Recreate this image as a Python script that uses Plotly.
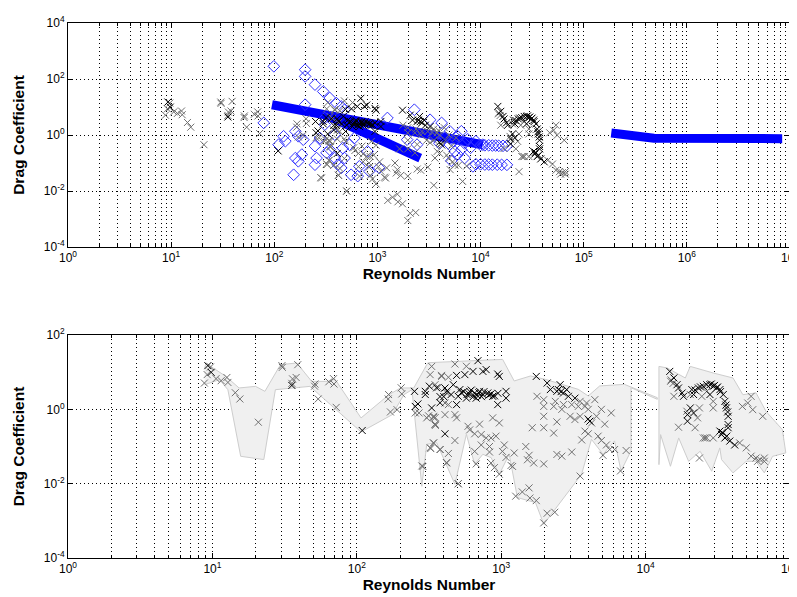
import plotly.graph_objects as go

# ---------------- data (Reynolds number, drag coefficient) ----------------
re_gray = [9.7, 9.2, 8.8, 10.6, 11.5, 12.6, 12.8, 14.4, 15.5, 20.8, 30.3, 30.5, 39, 35.9, 38, 35.5,
           51.3, 51, 54, 64, 69, 69.5, 72, 166, 165, 171, 190, 203, 205, 254, 270, 305, 340, 350,
           340, 325, 377, 287, 322, 386, 330, 314, 349, 349, 282, 322, 419, 504,
           478, 574, 387, 431, 348, 367, 419, 408, 431, 408, 478, 491, 340, 348, 589, 708, 873, 970,
           478, 340, 378, 431, 419, 504, 605, 655, 727, 787, 851, 920, 655, 671, 727, 830, 830, 851,
           897, 970, 1020, 1050, 1080, 1230, 1200, 1170, 1260, 1400, 1560, 1580, 1750, 1970, 2080,
           2350, 1480, 1560, 1520, 1680, 1970, 1640, 1970, 2310, 2430, 2630, 3080, 3520, 1770, 1970,
           1970, 1970, 2310, 2370, 2630, 2430, 2700, 3000, 3080, 3420, 3520, 3800, 3900, 4010, 4450,
           3240, 3520, 4230, 3800, 4010, 3610, 4570, 4940, 5210, 4690, 4940, 5350, 5780, 5070, 5640,
           6100, 7330, 6700, 14900, 15700, 20400, 19300, 22900, 23600, 22000, 16900, 24500, 29400,
           29400, 23600, 25800, 25100, 26500, 29400, 46800, 51000, 53800, 55200, 64700, 44800, 49800,
           53800, 58200, 59700, 66400, 66400, 62000, 26500, 15000, 15500]
cd_gray = [13.8, 8.6, 5.1, 6.7, 5.9, 7.2, 5.3, 2.8, 1.9, 0.45, 15, 13.5, 15.9, 6.6, 7.2, 5.0,
           4.8, 4.2, 1.9, 5.5, 6.7, 4.8, 1.13, 2.5, 1.9, 0.85, 0.98, 3.8, 2.6, 0.8, 0.8, 0.59, 0.61, 0.37,
           0.125, 0.088, 0.083, 0.029, 8.6, 8.2, 14.3, 0.67, 0.6, 0.4, 0.030, 0.093, 0.037, 0.01,
           16.6, 14.4, 7.7, 7.3, 4.6, 3.9, 2.75, 1.48, 1.34, 0.72, 0.72, 0.59, 0.65, 0.39, 0.35, 0.40, 0.59, 0.43,
           0.145, 0.124, 0.083, 0.065, 0.036, 0.0099, 0.28, 0.22, 0.21, 0.17, 0.17, 0.19, 0.074, 0.034, 0.11, 0.10, 0.071, 0.036,
           0.027, 0.018, 0.074, 0.11, 0.051, 0.067, 0.029, 0.031, 0.0046, 0.006, 0.0077, 0.0041, 0.0035, 0.00088, 0.0016,
           0.0017, 0.10, 0.058, 0.044, 0.036, 0.034, 0.32, 0.32, 0.23, 0.061, 0.055, 0.071, 0.016, 2.24, 0.65,
           1.2, 1.82, 1.2, 1.64, 1.0, 0.46, 1.34, 0.65, 1.34, 1.2, 1.64, 1.2, 1.48, 1.0, 1.82,
           0.53, 0.65, 0.43, 0.26, 0.22, 0.15, 0.65, 1.0, 0.40, 0.19, 0.145, 0.11, 0.8, 0.058, 0.083,
           0.083, 0.078, 0.022, 5.7, 2.24, 2.5, 0.89, 0.59, 1.09, 0.32, 0.33, 2.24, 1.64,
           1.09, 0.049, 0.17, 0.17, 0.17, 0.17, 1.2, 1.48, 2.24, 0.98, 0.65, 0.125, 0.092,
           0.055, 0.049, 0.040, 0.049, 0.040, 0.045, 3.05, 6.2, 5.0]

re_black = [9.3, 9.8, 35.5, 109, 251, 298, 298, 318, 357, 377, 377, 330, 254, 265, 408,
            690, 747, 787, 638, 491, 560, 946, 970, 408, 466, 517, 605, 655, 708, 747, 807, 873,
            1080, 1080, 946, 671, 574, 504, 491, 550, 600, 620, 680, 700, 730, 760, 820, 850, 900,
            950, 640, 580, 530, 450, 420, 400,
            1750, 2080, 2190, 2430, 2490, 2560, 2700, 2840, 2920, 2600, 3240, 4110, 4000,
            14700, 15700, 16500, 16900, 17900, 18300, 20900, 21500, 23200, 25100, 26500, 27900,
            29400, 31000, 32700, 34500, 35400, 36300, 37300, 37300, 37300, 32700, 33600, 35400,
            38300, 41400, 19500, 19500, 20400, 21500, 27900, 28500, 30000, 31500, 33000, 24000,
            22000, 36000, 37000, 34000, 36500]
cd_black = [15, 9.9, 4.4, 0.27, 3.05, 3.05, 2.5, 4.2, 3.8, 2.2, 1.5, 1.09, 1.2, 1.4, 0.22,
            20.4, 10.5, 11.7, 10.5, 8.2, 8.6, 8.9, 7.7, 3.75, 4.6, 3.4, 3.05, 2.75, 3.05, 2.5, 2.75, 2.24,
            3.05, 2.0, 1.34, 2.0, 2.0, 2.24, 1.34, 3.0, 2.6, 3.3, 2.4, 2.8, 2.2, 3.0, 2.4, 2.6, 2.3,
            2.7, 2.2, 2.5, 2.8, 2.5, 3.1, 2.2,
            7.7, 5.1, 3.4, 3.05, 3.4, 4.6, 2.75, 3.4, 2.24, 3.0, 2.0, 0.48, 0.55,
            10.5, 7.0, 4.6, 3.75, 2.75, 2.24, 3.4, 2.5, 3.75, 4.16, 4.6, 4.6,
            4.16, 3.75, 3.4, 2.5, 1.64, 1.09, 0.65, 0.39, 0.32, 0.26, 0.21, 0.17,
            0.14, 0.11, 0.72, 0.48, 1.09, 0.8, 2.5, 4.8, 4.4, 4.0, 3.0, 4.0,
            3.3, 1.3, 0.85, 0.24, 0.19]

re_diamond = [99, 199, 199, 248, 298, 345, 399, 446, 480, 199, 79, 309, 309, 110, 123, 128, 160, 171,
              191, 160, 171, 185, 154, 248, 257, 248, 321, 345, 385, 414, 462, 480, 446, 556, 644,
              668, 803, 834, 598, 536, 277, 385, 2280, 3240, 4190, 6510, 5040, 1940, 2420, 5620,
              8430, 10500, 1040, 1250, 4500, 5500, 6000, 7000, 7500, 8000, 6500, 5000, 9000, 4000,
              3500, 7000, 6000, 5200, 10000, 11000, 12000, 13000, 14000, 15000, 16500, 18000,
              9000, 10000, 11000, 12000, 13000, 14500, 16000, 18000]
cd_diamond = [284, 215, 124, 63, 36, 21, 13.8, 10.5, 8.0, 12.1, 2.7, 4.05, 2.35, 0.45, 0.90, 0.60, 1.36, 0.90,
              0.68, 0.15, 0.115, 0.20, 0.038, 0.40, 0.15, 0.087, 0.23, 0.30, 0.15, 0.087, 0.34, 0.15, 0.067, 0.038, 0.034,
              0.076, 0.26, 0.051, 0.78, 0.45, 0.78, 1.03, 8.0, 3.5, 2.7, 1.36, 1.36, 0.68, 0.45, 0.26,
              0.076, 0.45, 0.067, 4.05, 0.8, 0.6, 0.9, 0.5, 0.7, 0.35, 0.3, 0.45, 0.6, 0.5,
              0.9, 0.15, 0.2, 0.12, 0.44, 0.43, 0.43, 0.42, 0.42, 0.41, 0.41, 0.41,
              0.09, 0.09, 0.088, 0.088, 0.087, 0.087, 0.086, 0.086]

band_upper_re = [95, 930, 10500]
band_upper_cd = [12, 2.4, 0.45]
band_lower_re = [310, 2600]
band_lower_cd = [5.3, 0.15]
band_right_re = [1.85e5, 4.8e5, 8.4e6]
band_right_cd = [1.17, 0.76, 0.74]

env_left_re = [8.83, 9.07, 10.1, 12.4, 15.3, 19.9, 23.1, 29.6, 38.4, 48.7, 63.2, 70.3, 107, 167, 201,
               248, 305, 314, 1023, 1230, 1597, 2023, 3420, 4006, 4809, 7129, 12050,
               12050, 7925, 7925, 6761, 6092, 5073, 4217, 3604, 2496, 1972, 1727, 1294, 1136, 971,
               851, 746, 655, 574, 478, 357, 305, 282, 241, 212, 176, 107, 47.4, 37.4, 27.3, 22.7,
               15.7, 12.8, 11.2, 8.83]
env_left_cd = [12.97, 17.7, 13.0, 7.71, 3.76, 4.15, 3.05, 15.9, 17.7, 5.66, 5.66, 6.69, 0.587, 2.48, 3.76,
               3.76, 15.9, 18.0, 22.1, 5.80, 7.91, 6.40, 3.45, 2.29, 4.26, 4.70, 2.06,
               1.86, 3.83, 0.0762, 0.0221, 0.1415, 0.0617, 0.156, 0.0179, 0.00279, 0.00081, 0.0031, 0.00423, 0.0617, 0.0179,
               0.0503, 0.0617, 0.0332, 0.213, 0.00964, 0.127, 0.1146, 0.0085, 3.38, 2.48, 0.72, 0.247, 4.15, 3.76, 3.38, 0.0445,
               0.0545, 3.38, 6.29, 4.61]
env_right_re = [12370, 14110, 18840, 20370, 29420, 40310, 47170, 58230, 68170, 88560, 93540,
                75710, 66400, 58230, 49770, 40310, 33570, 32660, 28690, 23860, 19850, 16950,
                14860, 12700, 12370, 12370]
env_right_cd = [14.3, 12.97, 6.98, 14.3, 9.51, 6.98, 2.48, 2.76, 0.884, 0.285, 0.0673,
                0.0545, 0.0195, 0.04, 0.04, 0.0195, 0.0445, 0.0917, 0.0216, 0.0743, 0.04, 0.17,
                0.0294, 0.209, 0.0326, 14.3]

x_top_ticks = [1, 10, 100, 1e3, 1e4, 1e5, 1e6, 1e7]
x_top_text = ["10<sup>0</sup>", "10<sup>1</sup>", "10<sup>2</sup>", "10<sup>3</sup>",
              "10<sup>4</sup>", "10<sup>5</sup>", "10<sup>6</sup>", "10<sup>7</sup>"]
y_top_ticks = [1e-4, 1e-2, 1, 1e2, 1e4]
y_top_text = ["10<sup>-4</sup>", "10<sup>-2</sup>", "10<sup>0</sup>", "10<sup>2</sup>", "10<sup>4</sup>"]
x_bot_ticks = [1, 10, 100, 1e3, 1e4, 1e5]
x_bot_text = ["10<sup>0</sup>", "10<sup>1</sup>", "10<sup>2</sup>", "10<sup>3</sup>",
              "10<sup>4</sup>", "10<sup>5</sup>"]
y_bot_ticks = [1e-4, 1e-2, 1, 1e2]
y_bot_text = ["10<sup>-4</sup>", "10<sup>-2</sup>", "10<sup>0</sup>", "10<sup>2</sup>"]

# ---------------- figure ----------------
FONT = "Arial, 'Liberation Sans', sans-serif"
fig = go.Figure()

BLUE = "#0000ff"
XSYM = dict(symbol="x-thin-open", size=7, line=dict(width=1))
GRID_DASH = "1px,3px"

# top subplot
for bre, bcd in [(band_upper_re, band_upper_cd), (band_lower_re, band_lower_cd),
                 (band_right_re, band_right_cd)]:
    fig.add_trace(go.Scatter(x=bre, y=bcd, mode="lines", line=dict(color=BLUE, width=9),
                             xaxis="x", yaxis="y", showlegend=False, hoverinfo="skip"))
fig.add_trace(go.Scatter(x=re_diamond, y=cd_diamond, mode="markers",
                         marker=dict(symbol="diamond-open", size=9, color="rgb(50,50,255)",
                                     line=dict(width=1)),
                         xaxis="x", yaxis="y", showlegend=False))
fig.add_trace(go.Scatter(x=re_gray, y=cd_gray, mode="markers",
                         marker=dict(color="#707070", **XSYM), xaxis="x", yaxis="y", showlegend=False))
fig.add_trace(go.Scatter(x=re_black, y=cd_black, mode="markers",
                         marker=dict(color="#000000", **XSYM), xaxis="x", yaxis="y", showlegend=False))

# bottom subplot
for ere, ecd in [(env_left_re, env_left_cd), (env_right_re, env_right_cd)]:
    fig.add_trace(go.Scatter(x=ere, y=ecd, mode="lines", fill="toself",
                             fillcolor="rgb(240,240,240)", line=dict(color="rgb(205,205,205)", width=1),
                             xaxis="x2", yaxis="y2", showlegend=False, hoverinfo="skip"))
fig.add_trace(go.Scatter(x=re_gray, y=cd_gray, mode="markers",
                         marker=dict(color="#707070", **XSYM), xaxis="x2", yaxis="y2", showlegend=False))
fig.add_trace(go.Scatter(x=re_black, y=cd_black, mode="markers",
                         marker=dict(color="#000000", **XSYM), xaxis="x2", yaxis="y2", showlegend=False))

minor_x = [m * 10 ** d for d in range(7) for m in range(2, 10)]


def xaxis(anchor, rng, tv, tt):
    return dict(type="log", domain=[0, 1], anchor=anchor, range=rng,
                tickmode="array", tickvals=tv, ticktext=tt, ticklabeloverflow="allow",
                showline=True, linecolor="black", linewidth=1, mirror="ticks",
                ticks="inside", ticklen=5, tickcolor="black",
                showgrid=True, gridcolor="black", griddash=GRID_DASH, gridwidth=1,
                minor=dict(tickmode="array", tickvals=minor_x, ticks="inside", ticklen=3,
                           tickcolor="black", showgrid=True, gridcolor="black", griddash=GRID_DASH,
                           gridwidth=1),
                tickfont=dict(family=FONT, size=12, color="black"),
                title=dict(text="<b>Reynolds Number</b>", standoff=1,
                           font=dict(family=FONT, size=15.5, color="black")),
                zeroline=False)


def yaxis(dom, anchor, rng, tv, tt):
    return dict(type="log", domain=dom, anchor=anchor, range=rng,
                tickmode="array", tickvals=tv, ticktext=tt, ticklabeloverflow="allow",
                showline=True, linecolor="black", linewidth=1, mirror="ticks",
                ticks="inside", ticklen=5, tickcolor="black",
                showgrid=True, gridcolor="black", griddash=GRID_DASH, gridwidth=1,
                tickfont=dict(family=FONT, size=12, color="black"),
                title=dict(text="<b>Drag Coefficient</b>", standoff=15,
                           font=dict(family=FONT, size=15.5, color="black")),
                zeroline=False)


fig.update_layout(
    width=797, height=597,
    margin=dict(l=60, r=6, t=15, b=47),
    paper_bgcolor="white", plot_bgcolor="white",
    xaxis=xaxis("y", [0, 7], x_top_ticks, x_top_text),
    yaxis=yaxis([0.5813, 1.0], "x", [-4, 4], y_top_ticks, y_top_text),
    xaxis2=xaxis("y2", [0, 5], x_bot_ticks, x_bot_text),
    yaxis2=yaxis([0.0, 0.4168], "x2", [-4, 2], y_bot_ticks, y_bot_text),
    showlegend=False,
)

fig.write_html("out.html")
